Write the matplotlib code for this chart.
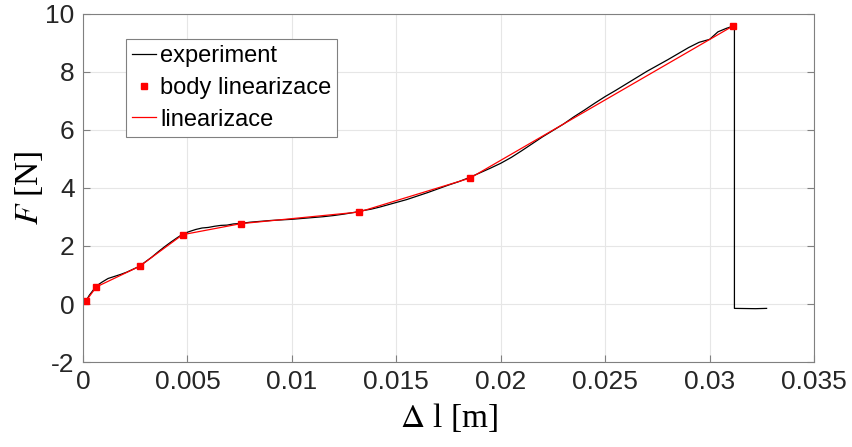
import matplotlib.pyplot as plt

# -------- DATA --------
# linearization points
lin_x = [0.00014, 0.00064, 0.00271, 0.00477, 0.00756, 0.01321, 0.01853, 0.03114]
lin_y = [0.10, 0.59, 1.30, 2.39, 2.77, 3.17, 4.34, 9.59]

# measured curve
exp_x = [0.00014, 0.00030, 0.00064, 0.0009, 0.0012, 0.0015, 0.0018, 0.0021, 0.0024,
         0.0027, 0.0030, 0.0033, 0.0036, 0.0039, 0.0042, 0.0045, 0.0048, 0.0051,
         0.0054, 0.0057, 0.0060, 0.0063, 0.0066, 0.0069, 0.0072, 0.0076, 0.0080,
         0.0085, 0.0090, 0.0095, 0.0100, 0.0105, 0.0110, 0.0115, 0.0120, 0.0125,
         0.0130, 0.0134, 0.0138, 0.0142, 0.0146, 0.0150, 0.0155, 0.0160, 0.0165,
         0.0170, 0.0175, 0.0180, 0.0185, 0.0190, 0.0195, 0.0200, 0.0205, 0.0210,
         0.0215, 0.0220, 0.0225, 0.0230, 0.0235, 0.0240, 0.0245, 0.0250, 0.0255,
         0.0260, 0.0265, 0.0270, 0.0275, 0.0280, 0.0285, 0.0290, 0.0295, 0.0300,
         0.0304, 0.0308, 0.03114, 0.03119, 0.03119, 0.0322, 0.03273]
exp_y = [0.10, 0.30, 0.62, 0.75, 0.88, 0.95, 1.02, 1.10, 1.20,
         1.30, 1.46, 1.62, 1.80, 1.97, 2.13, 2.28, 2.42, 2.50,
         2.57, 2.62, 2.64, 2.68, 2.71, 2.72, 2.76, 2.78, 2.82,
         2.85, 2.88, 2.90, 2.92, 2.95, 2.98, 3.01, 3.05, 3.10,
         3.16, 3.22, 3.27, 3.34, 3.42, 3.50, 3.60, 3.72, 3.84,
         3.97, 4.10, 4.22, 4.36, 4.52, 4.68, 4.85, 5.05, 5.28,
         5.52, 5.76, 5.98, 6.20, 6.45, 6.68, 6.92, 7.15, 7.36,
         7.58, 7.80, 8.02, 8.22, 8.42, 8.63, 8.84, 9.02, 9.12,
         9.38, 9.50, 9.58, 9.60, -0.15, -0.16, -0.15]

x_ticks = [0, 0.005, 0.01, 0.015, 0.02, 0.025, 0.03, 0.035]
x_labels = ['0', '0.005', '0.01', '0.015', '0.02', '0.025', '0.03', '0.035']
y_ticks = [-2, 0, 2, 4, 6, 8, 10]

# -------- PLOT --------
plt.rcParams['font.family'] = ['Liberation Sans', 'DejaVu Sans']
plt.rcParams['mathtext.fontset'] = 'stix'
plt.rcParams['axes.unicode_minus'] = False

fig = plt.figure(figsize=(8.52, 4.47), dpi=100)
ax = fig.add_axes([0.0974, 0.190, 0.858, 0.779])

ax.plot(exp_x, exp_y, color='black', lw=0.9, label='experiment')
ax.plot(lin_x, lin_y, 's', color='red', ms=5, label='body linearizace')
ax.plot(lin_x, lin_y, '-', color='red', lw=0.9, label='linearizace')

ax.set_xlim(0, 0.035)
ax.set_ylim(-2, 10)
ax.set_xticks(x_ticks)
ax.set_xticklabels(x_labels)
ax.set_yticks(y_ticks)
ax.grid(True, color='#e6e6e6', lw=0.8)
ax.set_axisbelow(True)

for s in ax.spines.values():
    s.set_color('#808080')
    s.set_linewidth(0.8)
ax.tick_params(direction='in', length=5, color='#808080', labelsize=19,
               labelcolor='#262626', top=False, right=True, pad=6)

ax.set_xlabel(r'$\Delta$ l [m]', family='Liberation Serif', fontsize=24, labelpad=5)
ax.set_ylabel('$F$ [N]', family='Liberation Serif', fontsize=24, labelpad=0)

leg = ax.legend(loc='upper left', fontsize=17,
                handlelength=1.0, handletextpad=0.2, borderpad=0.25, labelspacing=0.42,
                fancybox=False, framealpha=1, borderaxespad=0)
leg.set_bbox_to_anchor((126 / 852, 1 - 39 / 447), transform=fig.transFigure)
leg.get_frame().set_edgecolor('#808080')
leg.get_frame().set_linewidth(0.8)

plt.savefig('out.png', dpi=100)
